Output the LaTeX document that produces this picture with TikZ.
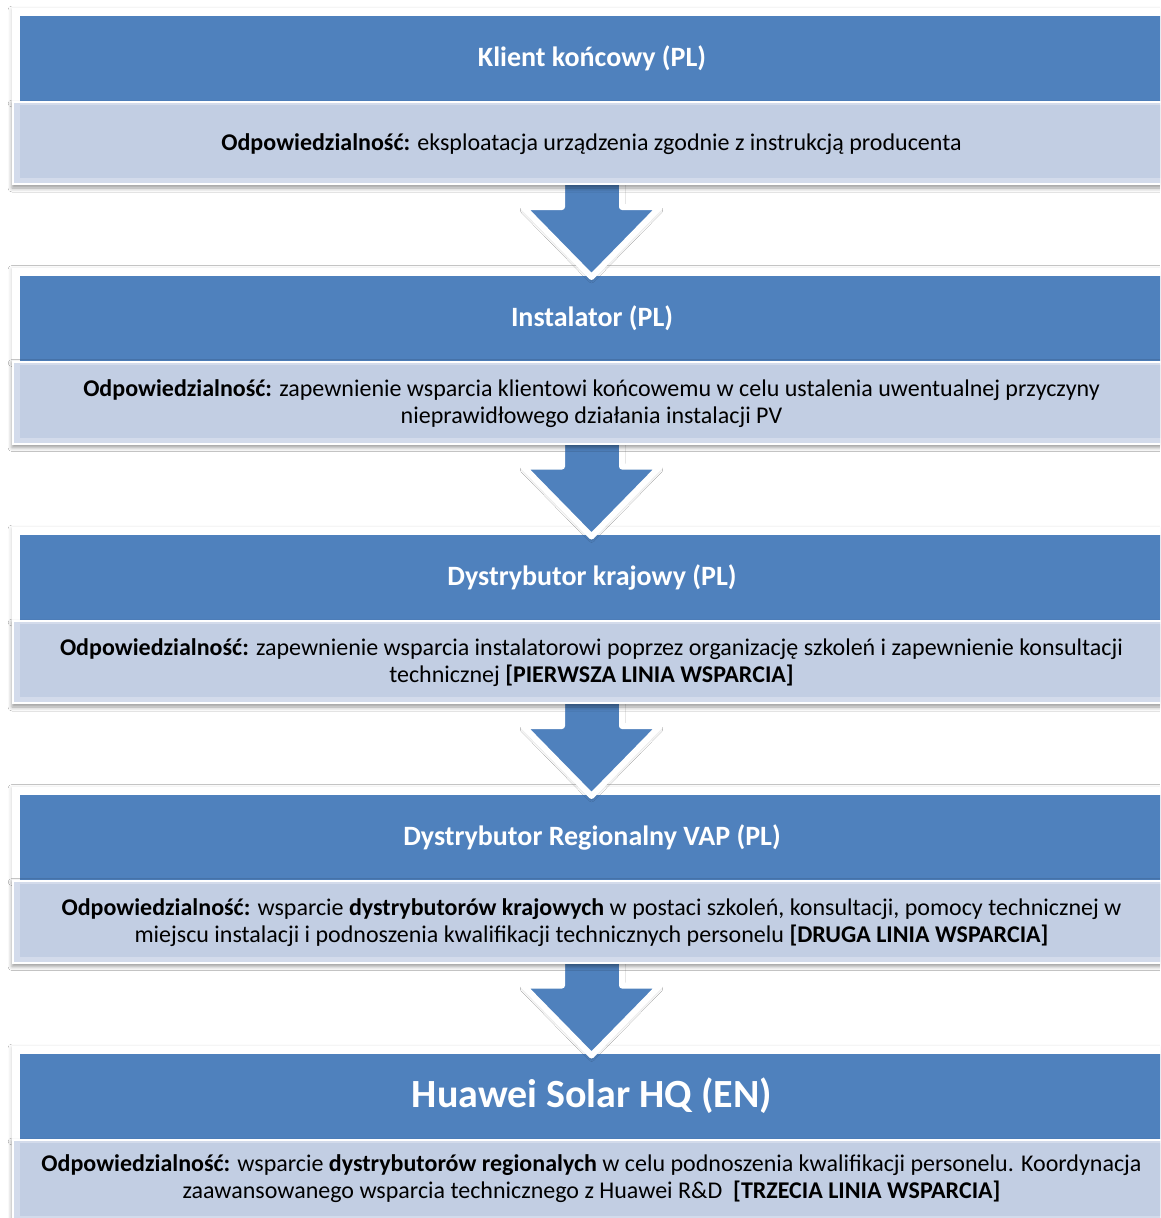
\documentclass[tikz,border=0pt]{standalone}
\usepackage{fontspec}
\setmainfont{Carlito}
\usetikzlibrary{shadows.blur}
\definecolor{hdrblue}{HTML}{4F81BD}
\definecolor{lightfill}{HTML}{C2CEE3}
\definecolor{lightrim}{HTML}{D3DBEB}
\tikzset{
  hdrframe/.style={fill=white, draw=none, blur shadow={shadow xshift=0pt, shadow yshift=-2pt, shadow blur radius=4pt, shadow opacity=20}},
  hdrbox/.style={fill=hdrblue, draw=none},
  lightouter/.style={fill=white, draw=none, blur shadow={shadow xshift=0pt, shadow yshift=-3pt, shadow blur radius=4pt, shadow opacity=40}},
  lightrimbox/.style={fill=lightrim, draw=none},
  lightinner/.style={fill=lightfill, draw=none},
  hdrtext/.style={text=white, font=\fontsize{28}{33}\selectfont\bfseries, anchor=center, inner sep=0pt},
  bigtext/.style={text=white, font=\fontsize{40}{48}\selectfont\bfseries, anchor=center, inner sep=0pt},
  bodytext/.style={text=black, font=\fontsize{24}{27}\selectfont, align=center, anchor=center, inner sep=0pt},
  downarrow/.style={fill=hdrblue, draw=white, line width=6pt, line join=round, blur shadow={shadow xshift=0pt, shadow yshift=-3pt, shadow blur radius=3pt, shadow opacity=30}}
}
\begin{document}
\begin{tikzpicture}[x=1pt, y=-1pt]
\useasboundingbox (0,0) rectangle (1160,1218);
\clip (0,0) rectangle (1160,1218);
\fill[white] (0,0) rectangle (1160,1218);
% headers
\foreach \T in {16,275.5,535,794.5,1054} {
  \path[hdrframe] (12,\T-8) rectangle (1180,\T+85);
  \path[hdrbox] (20,\T) rectangle (1180,\T+85);
}
% arrows
\foreach \T in {16,275.5,535,794.5} {
  \path[downarrow] (562,\T+150) -- (622,\T+150) -- (622,\T+191) -- (660,\T+191)
     -- (591.5,\T+261) -- (523,\T+191) -- (562,\T+191) -- cycle;
}
% light boxes
\foreach \T in {16,275.5,535,794.5,1054} {
  \path[lightouter] (12,\T+85) rectangle (1180,\T+169);
  \path[lightrimbox] (14,\T+87) rectangle (1180,\T+167);
  \path[lightinner] (20,\T+89) rectangle (1180,\T+162);
}
% stage texts
\node[hdrtext] (h1) at (592,58) {Klient końcowy (PL)};
\node[bodytext] (b1) at (591.5,144) {\textbf{Odpowiedzialność:} eksploatacja urządzenia zgodnie z instrukcją producenta};
\node[hdrtext] (h2) at (592,318) {Instalator (PL)};
\node[bodytext] (b2) at (591.5,403.5) {\textbf{Odpowiedzialność:} zapewnienie wsparcia klientowi końcowemu w celu ustalenia uwentualnej przyczyny\\ nieprawidłowego działania instalacji PV};
\node[hdrtext] (h3) at (592,577) {Dystrybutor krajowy (PL)};
\node[bodytext] (b3) at (591.5,663) {\textbf{Odpowiedzialność:} zapewnienie wsparcia instalatorowi poprzez organizację szkoleń i zapewnienie konsultacji\\ technicznej \textbf{[PIERWSZA LINIA WSPARCIA]}};
\node[hdrtext] (h4) at (592,837) {Dystrybutor Regionalny VAP (PL)};
\node[bodytext] (b4) at (591.5,922.5) {\textbf{Odpowiedzialność:} wsparcie \textbf{dystrybutorów krajowych} w postaci szkoleń, konsultacji, pomocy technicznej w\\ miejscu instalacji i podnoszenia kwalifikacji technicznych personelu \textbf{[DRUGA LINIA WSPARCIA]}};
\node[bigtext] (h5) at (592,1096) {Huawei Solar HQ (EN)};
\node[bodytext] (b5) at (591.5,1179) {\textbf{Odpowiedzialność:} wsparcie \textbf{dystrybutorów regionalych} w celu podnoszenia kwalifikacji personelu. Koordynacja\\ zaawansowanego wsparcia technicznego z Huawei R\&D\ \ \textbf{[TRZECIA LINIA WSPARCIA]}};
\end{tikzpicture}
\end{document}
